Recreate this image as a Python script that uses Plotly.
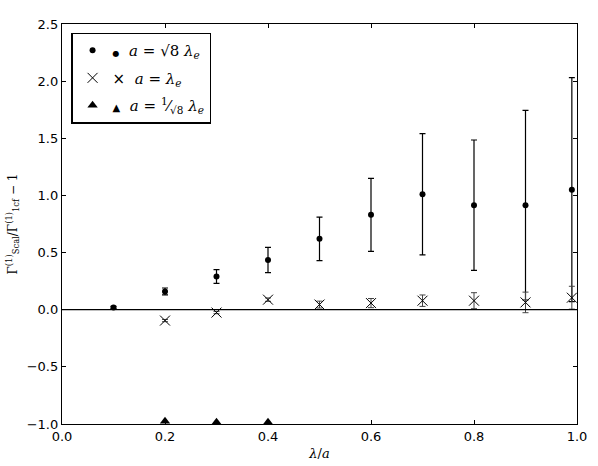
import plotly.graph_objects as go

# a = sqrt(8) lambda_e
x_big = [0.1, 0.2, 0.3, 0.4, 0.5, 0.6, 0.7, 0.8, 0.9, 0.99]
y_big = [0.02, 0.16, 0.29, 0.435, 0.62, 0.83, 1.01, 0.915, 0.915, 1.05]
err_big = [0.01, 0.03, 0.06, 0.11, 0.19, 0.32, 0.53, 0.57, 0.83, 0.98]

# a = lambda_e
x_mid = [0.2, 0.3, 0.4, 0.5, 0.6, 0.7, 0.8, 0.9, 0.99]
y_mid = [-0.095, -0.025, 0.088, 0.045, 0.058, 0.079, 0.079, 0.064, 0.105]
err_mid = [0.01, 0.01, 0.015, 0.03, 0.04, 0.05, 0.07, 0.09, 0.1]

# a = lambda_e / sqrt(8)
x_small = [0.2, 0.3, 0.4]
y_small = [-0.975, -0.985, -0.985]

y_ticks = [-1.0, -0.5, 0.0, 0.5, 1.0, 1.5, 2.0, 2.5]
x_ticks = [0.0, 0.2, 0.4, 0.6, 0.8, 1.0]

serif = "DejaVu Serif"

fig = go.Figure()

fig.add_trace(go.Scatter(
    x=x_big, y=y_big, mode="markers", legendgroup="g1",
    name="<span style='font-size:8px'>●</span>  <i>a</i> = √8 <i>λ</i><sub><i>e</i></sub>",
    marker=dict(symbol="circle", size=6, color="black"),
    error_y=dict(type="data", array=err_big, color="black", thickness=1.2, width=3),
))
fig.add_trace(go.Scatter(
    x=x_mid, y=y_mid, mode="markers", legendgroup="g2",
    name="<span style='font-size:15px;font-family:DejaVu Sans'>×</span>  <i>a</i> = <i>λ</i><sub><i>e</i></sub>",
    marker=dict(symbol="x-thin-open", size=10, color="black",
                line=dict(width=1, color="black")),
    error_y=dict(type="data", array=err_mid, color="#444", thickness=1, width=3),
))
fig.add_trace(go.Scatter(
    x=x_small, y=y_small, mode="markers", legendgroup="g3",
    name="<span style='font-size:10px'>▲</span>  <i>a</i> = <sup>1</sup>⁄<sub>√8</sub> <i>λ</i><sub><i>e</i></sub>",
    marker=dict(symbol="triangle-up", size=9, color="black"),
))

fig.add_hline(y=0, line=dict(color="black", width=1.3))

axis_common = dict(
    showline=True, linecolor="black", linewidth=1.3, mirror="ticks",
    ticks="inside", ticklen=4, tickcolor="black", showgrid=False,
    zeroline=False, automargin=False,
    tickfont=dict(family="DejaVu Sans", size=13, color="black"),
)

fig.update_xaxes(
    range=[0, 1], tickvals=x_ticks, tickformat=".1f",
    title=dict(text="<i>λ</i>/<i>a</i>", font=dict(family=serif, size=13, color="black"),
               standoff=6),
    **axis_common,
)
fig.update_yaxes(
    range=[-1.0, 2.5], tickvals=y_ticks, tickformat=".1f",
    title=dict(text="Γ<sup>(1)</sup><sub>Scal</sub>/Γ<sup>(1)</sup><sub>1cf</sub> − 1",
               font=dict(family=serif, size=12, color="black"), standoff=6),
    **axis_common,
)

fig.update_layout(
    width=598, height=466,
    margin=dict(l=62, r=21, t=24, b=42),
    plot_bgcolor="white", paper_bgcolor="white",
    showlegend=True,
    legend=dict(
        x=0.018, y=0.978, xanchor="left", yanchor="top",
        bgcolor="white", bordercolor="black", borderwidth=1.3,
        font=dict(family=serif, size=15, color="black"),
        itemsizing="trace", tracegroupgap=5, itemwidth=30,
    ),
)

fig.write_html("out.html", config={"displayModeBar": False},
               post_script="document.body.style.margin='0';")
